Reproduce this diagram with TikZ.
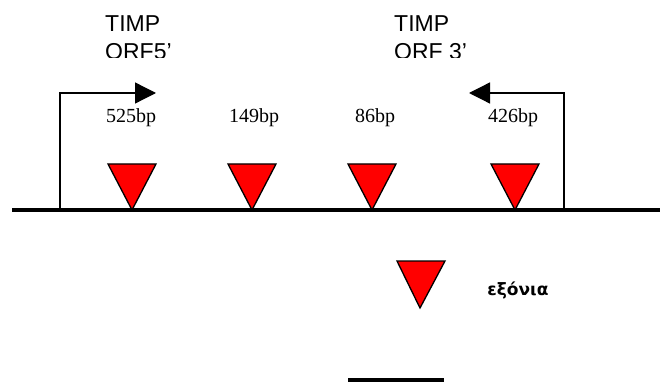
\documentclass[tikz,border=0pt]{standalone}
\usepackage{fontspec}
\setmainfont{Liberation Serif}
\newfontfamily\labfont{Liberation Sans}
\newfontfamily\grfont{DejaVu Sans}
\usetikzlibrary{arrows.meta}
\begin{document}
\begin{tikzpicture}[x=1pt,y=-1pt,
  exon/.style={fill=red,draw=black,line width=1.3pt,line join=miter},
  bp/.style={font=\fontsize{20}{24}\selectfont,inner sep=0pt,anchor=base},
  orflab/.style={font=\labfont\fontsize{23}{28}\selectfont,align=left,inner sep=0pt,anchor=base west},
  dna/.style={line width=4pt},
  orfarrow/.style={line width=1.3pt,-{Triangle[length=21pt,width=21pt]}}]
\useasboundingbox (0,0) rectangle (664,382);
% main DNA line
\coordinate (dnaL) at (12,210);
\coordinate (dnaR) at (660,210);
\draw[dna] (dnaL) -- (dnaR);
% exons
\foreach \x/\n in {132/a,252/b,372/c,515/d}{
  \draw[exon] (\x-24,164) -- (\x+24,164) -- (\x,210) -- cycle;
}
% bp labels
\node[bp] (l1) at (131,123) {525bp};
\node[bp] (l2) at (254,123) {149bp};
\node[bp] (l3) at (375,123) {86bp};
\node[bp] (l4) at (513,123) {426bp};
% ORF arrows
\coordinate (s5) at (60,210);
\coordinate (k5) at (60,93);
\coordinate (t5) at (156,93);
\draw[orfarrow] (s5) -- (k5) -- (t5);
\coordinate (s3) at (564,210);
\coordinate (k3) at (564,93);
\coordinate (t3) at (469,93);
\draw[orfarrow] (s3) -- (k3) -- (t3);
% ORF labels (clipped at the bottom, as in the original)
\begin{scope}
  \clip (0,0) rectangle (664,57.5);
  \node[orflab] (orf5) at (105,60) {TIMP\\ORF5\textquoteright};
  \node[orflab] (orf3) at (394,60) {TIMP\\ORF 3\textquoteright};
\end{scope}
% legend
\draw[exon] (397,261) -- (445,261) -- (420,308) -- cycle;
\node[font=\grfont\bfseries\fontsize{17}{20}\selectfont,inner sep=0pt] (ex) at (518,290) {εξόνια};
\coordinate (barL) at (348,380);
\coordinate (barR) at (444,380);
\draw[dna] (barL) -- (barR);
\end{tikzpicture}
\end{document}
